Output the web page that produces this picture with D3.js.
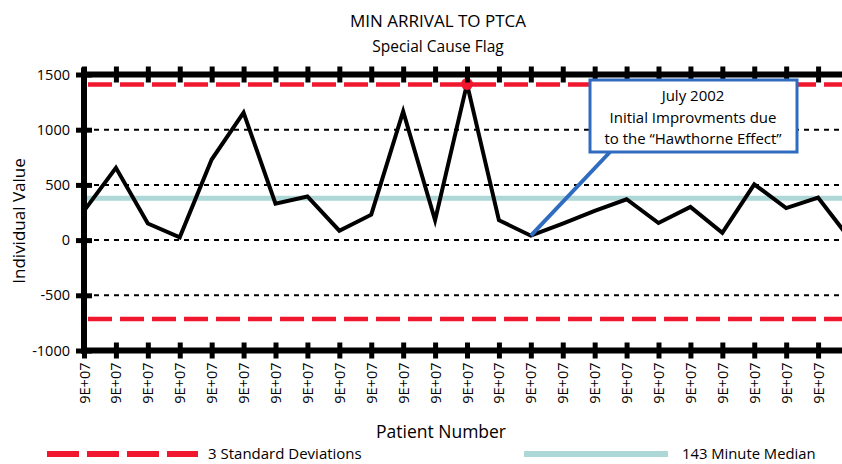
<!DOCTYPE html>
<html>
<head>
<meta charset="utf-8">
<script src="https://cdn.jsdelivr.net/npm/d3@7"></script>
<style>
  body { margin: 0; background: #fff; overflow: hidden; }
  text { font-family: "Open Sans", sans-serif; fill: #000; }
</style>
</head>
<body>
<svg width="842" height="464"></svg>
<script>
// patient number labels (all display as 9E+07 in the original)
const patientLabels = ["9E+07","9E+07","9E+07","9E+07","9E+07","9E+07","9E+07","9E+07","9E+07","9E+07",
                       "9E+07","9E+07","9E+07","9E+07","9E+07","9E+07","9E+07","9E+07","9E+07","9E+07",
                       "9E+07","9E+07","9E+07","9E+07","9E+07"];
const arrivalMinutes = [265, 655, 150, 25, 730, 1155, 330, 395, 85, 230,
                        1165, 180, 1415, 180, 40, 150, 265, 370, 155, 300,
                        65, 505, 290, 385, 10];
const yTicks = [-1000, -500, 0, 500, 1000, 1500];
const gridValues = [-500, 0, 500, 1000];
const ucl = 1410, lcl = -715, median = 378;
const flagged = [12];

const red = "#f0172f", teal = "#aed8d8", blue = "#2f6cc0";
const width = 842, height = 464;
const svg = d3.select("svg");

const x = d3.scaleLinear().domain([0, patientLabels.length - 1]).range([84, 850]);
const y = d3.scaleLinear().domain([-1000, 1500]).range([350.5, 74.5]);
const idx = d3.range(patientLabels.length);

// titles
svg.append("text").attr("x", 438).attr("y", 21).attr("dy", "0.35em")
    .attr("text-anchor", "middle").style("font-size", "17px").text("MIN ARRIVAL TO PTCA");
svg.append("text").attr("x", 438).attr("y", 47).attr("dy", "0.35em")
    .attr("text-anchor", "middle").style("font-size", "15.5px").text("Special Cause Flag");

// dashed grid
svg.append("g").selectAll("line").data(gridValues).enter().append("line")
    .attr("x1", x(0)).attr("x2", width)
    .attr("y1", d => y(d)).attr("y2", d => y(d))
    .attr("stroke", "#000").attr("stroke-width", 2).attr("stroke-dasharray", "5,5");

// control limits
svg.append("g").selectAll("line").data([ucl, lcl]).enter().append("line")
    .attr("x1", x(0) + 4).attr("x2", width)
    .attr("y1", d => y(d)).attr("y2", d => y(d))
    .attr("stroke", red).attr("stroke-width", 4.5).attr("stroke-dasharray", "24,8");

// median
svg.append("line").attr("x1", x(0)).attr("x2", width)
    .attr("y1", y(median)).attr("y2", y(median))
    .attr("stroke", teal).attr("stroke-width", 5);

// data line
let line = d3.line().x((d, i) => x(i)).y(d => y(d));
svg.append("path").datum(arrivalMinutes)
    .attr("d", line).attr("fill", "none")
    .attr("stroke", "#000").attr("stroke-width", 4).attr("stroke-linejoin", "miter");

svg.selectAll(".flag").data(flagged).enter().append("circle")
    .attr("cx", d => x(d)).attr("cy", d => y(arrivalMinutes[d])).attr("r", 6)
    .attr("fill", red);

// axes
let axBottom = svg.append("g").attr("transform", `translate(0,${y(-1000)})`)
    .call(d3.axisBottom(x).tickValues(idx).tickFormat(i => patientLabels[i]).tickSize(8).tickSizeOuter(0));
let axTop = svg.append("g").attr("transform", `translate(0,${y(1500)})`)
    .call(d3.axisTop(x).tickValues(idx).tickFormat("").tickSize(8).tickSizeOuter(0));
let axLeft = svg.append("g").attr("transform", `translate(${x(0)},0)`)
    .call(d3.axisLeft(y).tickValues(yTicks).tickFormat(d => String(d)).tickSize(8).tickSizeOuter(0));

[axBottom, axTop, axLeft].forEach(g => {
    g.select(".domain").attr("stroke", "#000").attr("stroke-width", 6);
    g.selectAll(".tick line").attr("stroke", "#000").attr("stroke-width", 5);
});
axBottom.select(".domain").attr("d", `M${x(0) - 3},0H${width + 20}`);
axTop.select(".domain").attr("d", `M${x(0) - 3},0H${width + 20}`);
axLeft.select(".domain").attr("d", `M0,${y(1500) - 7}V${y(-1000) + 3}`);
axBottom.selectAll(".tick line").attr("y1", -8);
axTop.selectAll(".tick line").attr("y1", 8);
axLeft.selectAll(".tick line").attr("x1", 8);

axBottom.selectAll(".tick text")
    .attr("transform", "rotate(-90)").attr("x", -12).attr("y", 0).attr("dy", "0.35em")
    .attr("text-anchor", "end").style("font-size", "14.5px").style("font-family", "Open Sans").attr("fill", "#000");
axLeft.selectAll(".tick text").attr("x", -14)
    .style("font-size", "14.5px").style("font-family", "Open Sans").attr("fill", "#000");

// axis titles
svg.append("text").attr("transform", "translate(19,221) rotate(-90)").attr("dy", "0.35em")
    .attr("text-anchor", "middle").style("font-size", "17px").text("Individual Value");
svg.append("text").attr("x", 441).attr("y", 432).attr("dy", "0.35em")
    .attr("text-anchor", "middle").style("font-size", "17.5px").text("Patient Number");

// legend
svg.append("line").attr("x1", 47).attr("x2", 198).attr("y1", 454).attr("y2", 454)
    .attr("stroke", red).attr("stroke-width", 6).attr("stroke-dasharray", "32,8");
svg.append("text").attr("x", 208).attr("y", 454).attr("dy", "0.35em")
    .style("font-size", "15px").text("3 Standard Deviations");
svg.append("line").attr("x1", 524).attr("x2", 668).attr("y1", 454).attr("y2", 454)
    .attr("stroke", teal).attr("stroke-width", 6);
svg.append("text").attr("x", 682).attr("y", 454).attr("dy", "0.35em")
    .style("font-size", "14.8px").text("143 Minute Median");

// annotation
const noteLines = ["July 2002", "Initial Improvments due", "to the \u201CHawthorne Effect\u201D"];
svg.append("line").attr("x1", 610).attr("y1", 152)
    .attr("x2", x(14)).attr("y2", y(arrivalMinutes[14]))
    .attr("stroke", blue).attr("stroke-width", 4);
svg.append("rect").attr("x", 590).attr("y", 80).attr("width", 207).attr("height", 72)
    .attr("fill", "#fff").attr("stroke", blue).attr("stroke-width", 3);
svg.append("g").selectAll("text").data(noteLines).enter().append("text")
    .attr("x", 693).attr("y", (d, i) => 96 + i * 21.5).attr("dy", "0.35em")
    .attr("text-anchor", "middle").style("font-size", "15px").text(d => d);
</script>
</body>
</html>
